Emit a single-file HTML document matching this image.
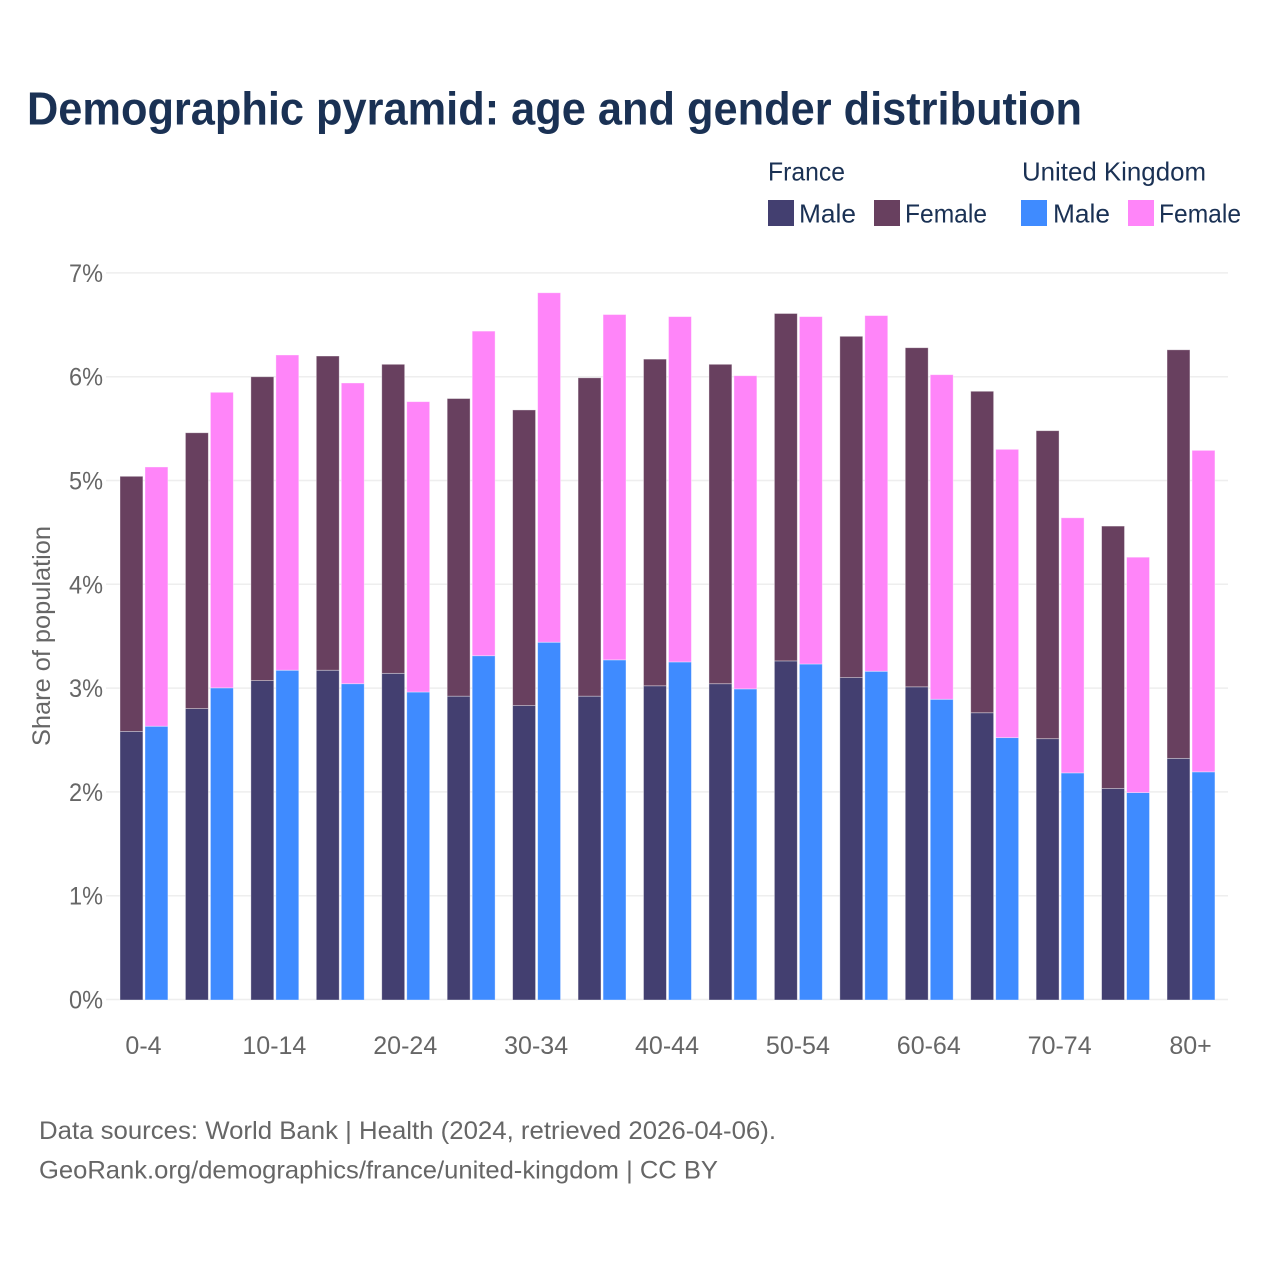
<!DOCTYPE html>
<html lang="en">
<head>
<meta charset="utf-8">
<title>Demographic pyramid</title>
<style>
html,body{margin:0;padding:0;background:#fff;}
svg{display:block;font-family:"Liberation Sans",sans-serif;}
</style>
</head>
<body>
<svg id="chart" width="1280" height="1280" viewBox="0 0 1280 1280" xmlns="http://www.w3.org/2000/svg">
  <rect x="0" y="0" width="1280" height="1280" fill="#ffffff"/>
  <text x="27" y="124.5" font-size="46" font-weight="700" fill="#1a3154" textLength="1055" lengthAdjust="spacingAndGlyphs">Demographic pyramid: age and gender distribution</text>

  <g id="legend" font-size="26" fill="#1a3154">
    <text x="768" y="180.5" textLength="77" lengthAdjust="spacingAndGlyphs">France</text>
    <text x="1022" y="180.5" textLength="184" lengthAdjust="spacingAndGlyphs">United Kingdom</text>
    <rect x="768" y="200" width="26" height="26" fill="#433f70"/>
    <text x="799" y="222.5" textLength="57" lengthAdjust="spacingAndGlyphs">Male</text>
    <rect x="874" y="200" width="26" height="26" fill="#68405f"/>
    <text x="905" y="222.5" textLength="82" lengthAdjust="spacingAndGlyphs">Female</text>
    <rect x="1021" y="200" width="26" height="26" fill="#3f8bff"/>
    <text x="1053" y="222.5" textLength="57" lengthAdjust="spacingAndGlyphs">Male</text>
    <rect x="1128" y="200" width="26" height="26" fill="#ff85f9"/>
    <text x="1159" y="222.5" textLength="82" lengthAdjust="spacingAndGlyphs">Female</text>
  </g>

  <text transform="translate(50,746) rotate(-90)" font-size="25" fill="#666666" textLength="220" lengthAdjust="spacingAndGlyphs">Share of population</text>

  <g id="grid"></g>
  <g id="yticks"></g>
  <g id="bars"></g>
  <g id="xticks"></g>

  <text x="39" y="1139" font-size="25" fill="#666666" textLength="737" lengthAdjust="spacingAndGlyphs">Data sources: World Bank | Health (2024, retrieved 2026-04-06).</text>
  <text x="39" y="1178.5" font-size="25" fill="#666666" textLength="679" lengthAdjust="spacingAndGlyphs">GeoRank.org/demographics/france/united-kingdom | CC BY</text>
</svg>
<script>
const categories = ["0-4","5-9","10-14","15-19","20-24","25-29","30-34","35-39","40-44","45-49","50-54","55-59","60-64","65-69","70-74","75-79","80+"];
const franceMale = [2.59,2.81,3.08,3.18,3.15,2.93,2.84,2.93,3.03,3.05,3.27,3.11,3.02,2.77,2.52,2.04,2.33];
const franceFemale = [2.46,2.66,2.93,3.03,2.98,2.87,2.85,3.07,3.15,3.08,3.35,3.29,3.27,3.10,2.97,2.53,3.94];
const ukMale = [2.64,3.01,3.18,3.05,2.97,3.32,3.45,3.28,3.26,3.00,3.24,3.17,2.90,2.53,2.19,2.00,2.20];
const ukFemale = [2.50,2.85,3.04,2.90,2.80,3.13,3.37,3.33,3.33,3.02,3.35,3.43,3.13,2.78,2.46,2.27,3.10];
const yTicks = [0,1,2,3,4,5,6,7];

const NS = "http://www.w3.org/2000/svg";
function yScale(v){ return 999.5 - v * 103.8; }
function barY(v){ return 1000 - v * 103.7; }
function xCenter(i){ return 144 + i * 65.44; }

const grid = document.getElementById("grid");
const yTickGroup = document.getElementById("yticks");
yTicks.forEach(function(t){
  const line = document.createElementNS(NS,"line");
  line.setAttribute("x1", 106);
  line.setAttribute("x2", 1228);
  line.setAttribute("y1", yScale(t));
  line.setAttribute("y2", yScale(t));
  line.setAttribute("stroke", "#eeeeee");
  line.setAttribute("stroke-width", 1.5);
  
  
  grid.appendChild(line);

  const label = document.createElementNS(NS,"text");
  label.setAttribute("x", 103);
  label.setAttribute("y", yScale(t) + 9);
  label.setAttribute("text-anchor", "end");
  label.setAttribute("font-size", 25);
  label.setAttribute("fill", "#666666");
  label.setAttribute("textLength", 34);
  label.setAttribute("lengthAdjust", "spacingAndGlyphs");
  label.textContent = t + "%";
  
  
  yTickGroup.appendChild(label);
});

const barGroup = document.getElementById("bars");
function addBar(x, v0, v1, fill){
  const r = document.createElementNS(NS,"rect");
  r.setAttribute("x", x);
  r.setAttribute("y", barY(v1));
  r.setAttribute("width", 22.9);
  r.setAttribute("height", barY(v0) - barY(v1));
  r.setAttribute("fill", fill);
  r.setAttribute("stroke", "#ffffff");
  r.setAttribute("stroke-opacity", "0.45");
  r.setAttribute("stroke-width", 0.8);
  
  
  barGroup.appendChild(r);
}
categories.forEach(function(c, i){
  const cx = xCenter(i);
  addBar(cx - 24, 0, franceMale[i], "#433f70");
  addBar(cx - 24, franceMale[i], franceMale[i] + franceFemale[i], "#68405f");
  addBar(cx + 1, 0, ukMale[i], "#3f8bff");
  addBar(cx + 1, ukMale[i], ukMale[i] + ukFemale[i], "#ff85f9");
});

const xTickGroup = document.getElementById("xticks");
categories.forEach(function(c, i){
  if (i % 2 !== 0) return;
  const label = document.createElementNS(NS,"text");
  label.setAttribute("x", xCenter(i) - 0.5);
  label.setAttribute("y", 1054);
  label.setAttribute("text-anchor", "middle");
  label.setAttribute("font-size", 25);
  label.setAttribute("fill", "#666666");
  label.textContent = c;
  
  
  xTickGroup.appendChild(label);
});
</script>
</body>
</html>
